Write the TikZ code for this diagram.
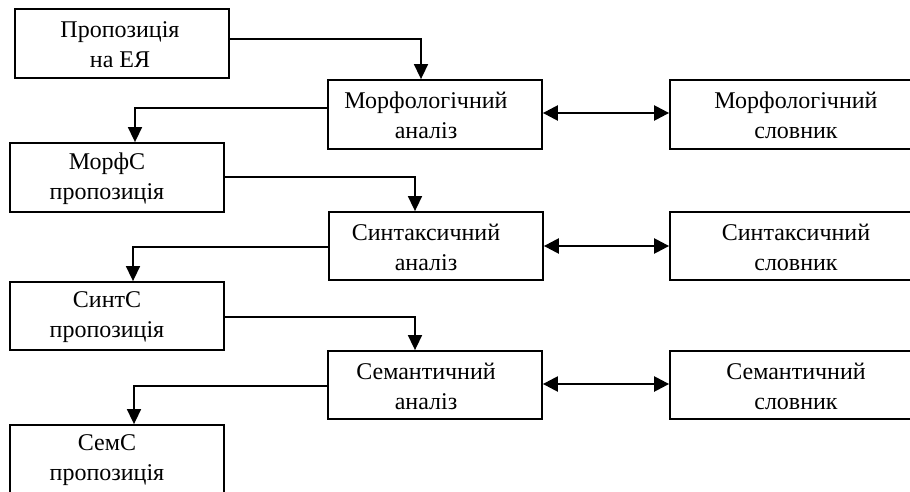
\documentclass[tikz,border=0pt]{standalone}
\usepackage{fontspec}
\setmainfont{Liberation Serif}
\usetikzlibrary{arrows.meta}
\begin{document}
\begin{tikzpicture}[x=1pt,y=-1pt,
  box/.style={draw, line width=1.8pt, rectangle, minimum width=214pt, minimum height=69pt, inner sep=0pt},
  widebox/.style={box, minimum width=270pt},
  txt/.style={align=center, font=\fontsize{24}{30}\selectfont, inner sep=0pt},
  conn/.style={line width=1.6pt, -{Triangle[length=15pt,width=14pt]}},
  dbl/.style={line width=2.4pt, {Triangle[length=15pt,width=15pt]}-{Triangle[length=15pt,width=15pt]}}]
  \useasboundingbox (0,0) rectangle (910,492);
  \fill[white] (0,0) rectangle (910,492);
  \clip (0,0) rectangle (910,492);

  % boxes
  \node[box] (b1) at (122,43.5) {};
  \node[box] (b2) at (435,114.5) {};
  \node[widebox] (b3) at (805,114.5) {};
  \node[box] (b4) at (117,177.5) {};
  \node[box, minimum height=68pt] (b5) at (436,246) {};
  \node[widebox, minimum height=68pt] (b6) at (805,246) {};
  \node[box, minimum height=68pt] (b7) at (117,316) {};
  \node[box, minimum height=68pt] (b8) at (435,385) {};
  \node[widebox, minimum height=68pt] (b9) at (805,385) {};
  \node[box] (b10) at (117,459.5) {};

  % texts
  \node[txt] (t1) at ([xshift=-2pt,yshift=-1pt]b1.center) {Пропозиція\\на ЕЯ};
  \node[txt] (t2) at ([xshift=-9pt,yshift=-1pt]b2.center) {Морфологічний\\аналіз};
  \node[txt] (t3) at ([xshift=-9pt,yshift=-1pt]b3.center) {Морфологічний\\словник};
  \node[txt] (t4) at ([xshift=-10pt,yshift=-1pt]b4.center) {МорфС\\пропозиція};
  \node[txt] (t5) at ([xshift=-10pt,yshift=-1pt]b5.center) {Синтаксичний\\аналіз};
  \node[txt] (t6) at ([xshift=-9pt,yshift=-1pt]b6.center) {Синтаксичний\\словник};
  \node[txt] (t7) at ([xshift=-10pt,yshift=-1pt]b7.center) {СинтС\\пропозиція};
  \node[txt] (t8) at ([xshift=-9pt,yshift=-1pt]b8.center) {Семантичний\\аналіз};
  \node[txt] (t9) at ([xshift=-9pt,yshift=-1pt]b9.center) {Семантичний\\словник};
  \node[txt] (t10) at ([xshift=-10pt,yshift=-1pt]b10.center) {СемС\\пропозиція};

  % flow connectors
  \draw[conn] ([yshift=4.5pt]b1.east) -| ([xshift=-14pt]b2.north);
  \draw[conn] ([yshift=6.5pt]b2.west) -| ([xshift=18pt]b4.north);
  \draw[conn] ([yshift=0.5pt]b4.east) -| ([xshift=-21pt]b5.north);
  \draw[conn] ([yshift=-1pt]b5.west) -| ([xshift=16pt]b7.north);
  \draw[conn] ([yshift=-1pt]b7.east) -| ([xshift=-20pt]b8.north);
  \draw[conn] ([yshift=-1pt]b8.west) -| ([xshift=17pt]b10.north);

  % dictionary links
  \draw[dbl] ([yshift=1.5pt]b2.east) -- ([yshift=1.5pt]b3.west);
  \draw[dbl] (b5.east) -- (b6.west);
  \draw[dbl] ([yshift=1pt]b8.east) -- ([yshift=1pt]b9.west);
\end{tikzpicture}
\end{document}
